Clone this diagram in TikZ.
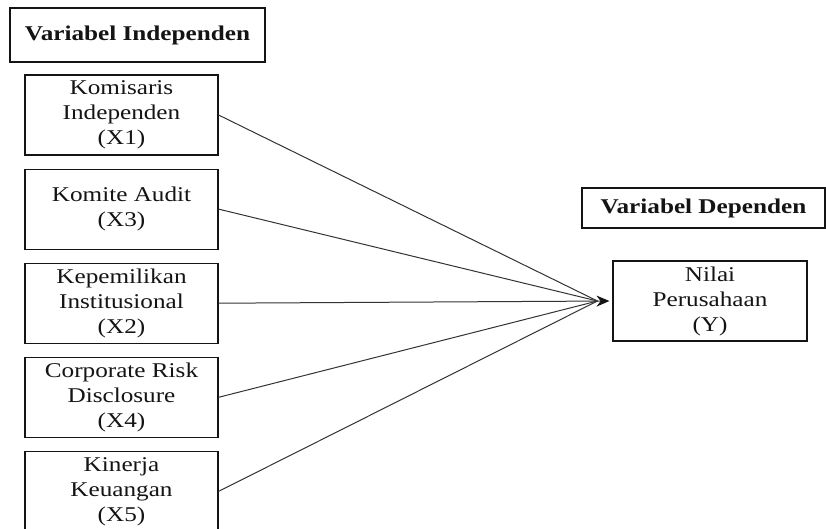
\documentclass[tikz,border=0pt]{standalone}
\usepackage{fontspec}
\setmainfont[FakeStretch=1.2]{Liberation Serif}
\usetikzlibrary{arrows.meta,positioning}
\definecolor{ink}{HTML}{141414}
\definecolor{wire}{HTML}{333333}

\begin{document}
\begin{tikzpicture}[
  x=1pt,y=-1pt,
  every node/.style={font=\fontsize{21}{25}\selectfont,text=ink},
  varbox/.style={draw=ink,line width=1.1pt,fill=white,minimum width=193pt,minimum height=80pt,inner sep=0pt,align=center},
  head/.style={draw=ink,line width=1.1pt,inner sep=0pt,font=\fontsize{21}{25}\selectfont\bfseries},
  link/.style={line width=1pt,color=wire}
]
\useasboundingbox (0,0) rectangle (826,528);

% independent side
\node[head,minimum width=255pt,minimum height=54pt] (hind) at (137.5,35) {Variabel Independen};
\node[varbox] (x1) at (121.5,115) {Komisaris\\Independen\\(X1)};
\node[varbox,below=13pt of x1] (x3) {Komite Audit\\(X3)};
\node[varbox,below=13pt of x3] (x2) {Kepemilikan\\Institusional\\(X2)};
\node[varbox,below=13pt of x2] (x4) {Corporate Risk\\Disclosure\\(X4)};
\node[varbox,below=13pt of x4] (x5) {Kinerja\\Keuangan\\(X5)};

% dependent side
\node[head,minimum width=243pt,minimum height=40pt] (hdep) at (703.5,208) {Variabel Dependen};
\node[varbox,minimum width=194pt] (y) at (710,301) {Nilai\\Perusahaan\\(Y)};
\coordinate (tip) at ([xshift=-3pt]y.west);
\coordinate (meet) at ([xshift=-12pt]tip);

\draw[link] (x1.east) -- (meet);
\draw[link] (x3.east) -- (meet);
\draw[link] (x4.east) -- (meet);
\draw[link] (x5.east) -- (meet);
\draw[link,-{Stealth[length=13pt,width=11pt,color=ink]}] (x2.east) -- (tip);
\end{tikzpicture}
\end{document}
